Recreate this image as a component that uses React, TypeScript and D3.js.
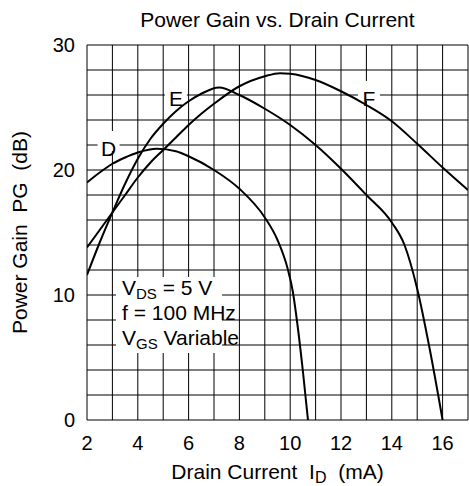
import React from "react";
import * as d3 from "d3";

const title = "Power Gain vs. Drain Current";
const xTicks = [2, 4, 6, 8, 10, 12, 14, 16];
const yTicks = [0, 10, 20, 30];

const dX = [2, 2.5, 3, 3.5, 4, 4.75, 5.5, 6, 7, 8, 9, 9.5, 9.9, 10.1, 10.3, 10.5, 10.7];
const dY = [19.0, 19.8, 20.5, 21.0, 21.4, 21.7, 21.5, 21.1, 20.0, 18.5, 16.2, 14.4, 12.1, 10.3, 7.4, 3.9, 0];

const eX = [2, 2.5, 3, 3.5, 4, 4.5, 5, 5.5, 6, 6.5, 7.2, 8, 9, 10, 11, 12, 13, 14, 14.5, 15, 15.5, 16];
const eY = [11.6, 14.2, 16.6, 18.9, 20.9, 22.5, 23.7, 24.7, 25.5, 26.1, 26.6, 26.0, 24.9, 23.6, 22.0, 20.1, 18.0, 15.8, 14.0, 10.5, 5.6, 0];

const fX = [2, 2.5, 3, 3.5, 4, 4.5, 5, 5.5, 6, 6.5, 7, 8, 9, 9.6, 10, 11, 12, 13, 14, 15, 16, 17];
const fY = [13.8, 15.2, 16.6, 18.0, 19.4, 20.6, 21.6, 22.6, 23.6, 24.5, 25.3, 26.7, 27.5, 27.75, 27.7, 27.2, 26.3, 25.2, 23.9, 22.1, 20.2, 18.4];

const curveLabels = ["D", "E", "F"];
const labelX = [2.85, 5.5, 13.1];
const labelY = [22, 26, 26];

const FONT = "'Liberation Sans', Arial, Helvetica, sans-serif";

export default function App() {
  const left = 87, right = 468, top = 45, bottom = 420;
  const x = d3.scaleLinear().domain([2, 17]).range([left, right]);
  const y = d3.scaleLinear().domain([0, 30]).range([bottom, top]);
  const line = d3
    .line<[number, number]>()
    .x((d) => x(d[0]))
    .y((d) => y(d[1]))
    .curve(d3.curveMonotoneX);

  const series = [
    dX.map((v, i) => [v, dY[i]] as [number, number]),
    eX.map((v, i) => [v, eY[i]] as [number, number]),
    fX.map((v, i) => [v, fY[i]] as [number, number]),
  ];

  const vGrid = d3.range(2, 18, 1);
  const hGrid = d3.range(0, 31, 2);

  return (
    <svg
      width={469}
      height={486}
      style={{ position: "absolute", left: 0, top: 0, background: "#fff" }}
      fontFamily={FONT}
    >
      <rect x={0} y={0} width={469} height={486} fill="#fff" />
      <text x={(left + right) / 2} y={27} textAnchor="middle" fontSize={21} fill="#000">
        {title}
      </text>
      <defs>
        <clipPath id="plotclip">
          <rect x={left} y={top} width={right - left} height={bottom - top} />
        </clipPath>
      </defs>
      <g stroke="#000" strokeWidth={1}>
        {vGrid.map((v) => (
          <line key={"v" + v} x1={x(v)} x2={x(v)} y1={top} y2={bottom} />
        ))}
        {hGrid.map((v) => (
          <line key={"h" + v} x1={left} x2={right} y1={y(v)} y2={y(v)} />
        ))}
      </g>
      {curveLabels.map((t, i) => (
        <rect
          key={"lb" + t}
          x={x(labelX[i]) - 11}
          y={y(labelY[i]) - 14}
          width={22}
          height={20}
          fill="#fff"
        />
      ))}
      <rect x={116} y={277} width={106} height={76} fill="#fff" />
      <g clipPath="url(#plotclip)" fill="none" stroke="#000" strokeWidth={2}>
        {series.map((s, i) => (
          <path key={"s" + i} d={line(s) || ""} />
        ))}
      </g>
      {curveLabels.map((t, i) => (
        <text
          key={"lt" + t}
          x={x(labelX[i])}
          y={y(labelY[i]) + 11}
          textAnchor="middle"
          fontSize={21}
          fill="#000"
        >
          {t}
        </text>
      ))}
      <g fontSize={21} fill="#000">
        <text x={122} y={295}>
          V<tspan fontSize={15} dy={4}>DS</tspan>
          <tspan dy={-4}> = 5 V</tspan>
        </text>
        <text x={122} y={320}>f = 100 MHz</text>
        <text x={122} y={345}>
          V<tspan fontSize={15} dy={4}>GS</tspan>
          <tspan dy={-4}> Variable</tspan>
        </text>
      </g>
      <g fontSize={20} fill="#000">
        {xTicks.map((v) => (
          <text key={"xt" + v} x={x(v)} y={450} textAnchor="middle">
            {v}
          </text>
        ))}
        {yTicks.map((v) => (
          <text key={"yt" + v} x={75} y={y(v) + 7} textAnchor="end">
            {v}
          </text>
        ))}
      </g>
      <text x={(left + right) / 2} y={479} textAnchor="middle" fontSize={21} fill="#000">
        Drain Current{"\u00a0\u00a0"}I<tspan fontSize={16} dy={4}>D</tspan>
        <tspan dy={-4}>{"\u00a0\u00a0"}(mA)</tspan>
      </text>
      <text
        transform={`translate(27,${(top + bottom) / 2}) rotate(-90)`}
        textAnchor="middle"
        fontSize={21}
        fill="#000"
      >
        {"Power Gain\u00a0\u00a0PG\u00a0\u00a0(dB)"}
      </text>
    </svg>
  );
}
